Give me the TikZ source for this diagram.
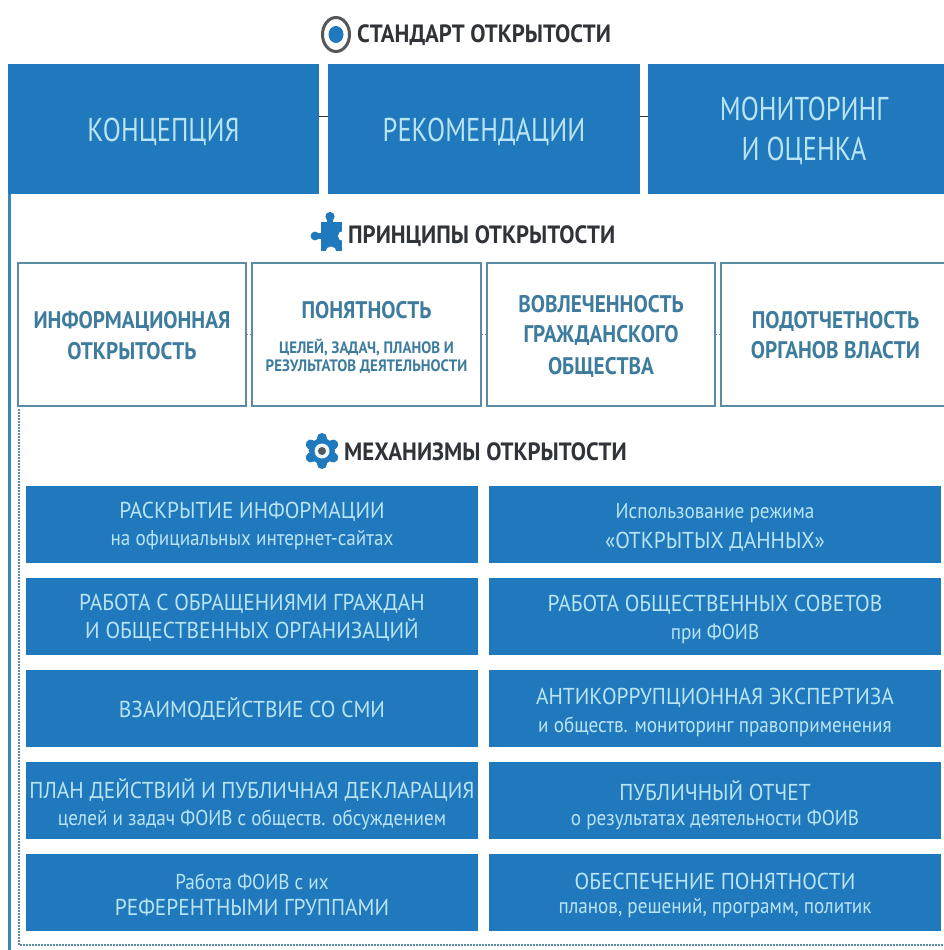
\documentclass[tikz,border=0pt]{standalone}
\usetikzlibrary{shapes.geometric}
\usepackage{fontspec}
\setmainfont{PT Sans}
\newfontfamily\condhuge[FakeStretch=0.8]{PT Sans}
\newfontfamily\condcap[FakeStretch=0.93]{PT Sans}
\newfontfamily\condsmall[FakeStretch=0.89]{PT Sans}
\newfontfamily\condtitle[FakeStretch=0.885]{PT Sans Bold}
\newfontfamily\condnote[FakeStretch=0.906]{PT Sans Bold}
\newfontfamily\condhead[FakeStretch=0.91]{PT Sans Bold}
\definecolor{mainblue}{HTML}{2079BD}
\definecolor{paleblue}{HTML}{B9E4F4}
\definecolor{linegrey}{HTML}{5B8CA6}
\definecolor{tealtext}{HTML}{3E7C9E}
\definecolor{headtext}{HTML}{303438}
\definecolor{ringgrey}{HTML}{55585A}
\definecolor{edgeblue}{HTML}{3A86BC}
\newcommand\capline[1]{{\condcap\fontsize{23}{27}\selectfont #1}}
\newcommand\smalltext[1]{{\condsmall\fontsize{21.5}{24}\selectfont #1}}
\newcommand\hugecap[1]{{\condhuge\fontsize{33}{41}\selectfont #1}}
\newcommand\ptitle[1]{{\condtitle\fontsize{24}{30}\selectfont #1}}
\newcommand\psmall[1]{{\condnote\fontsize{16.5}{21}\selectfont #1}}
\newcommand\pushdown[1]{\rule{0pt}{#1pt}}
\tikzset{
  topbox/.style={fill=mainblue,text=paleblue,inner sep=0pt,align=center,minimum height=130pt},
  mechbox/.style={fill=mainblue,text=paleblue,inner sep=0pt,align=center,minimum width=452pt,minimum height=77pt},
  princbox/.style={draw=linegrey,line width=1.6pt,fill=white,text=tealtext,inner sep=0pt,align=center,minimum height=143pt},
  headline/.style={text=headtext,inner sep=0pt,anchor=west,font={\condhead\fontsize{25}{28}\selectfont}},
  thinlink/.style={draw=headtext,line width=0.9pt},
  dotlink/.style={draw=linegrey,line width=1pt,dotted},
  frameline/.style={draw=edgeblue,line width=2.4pt},
  dotframe/.style={draw=linegrey,line width=2.4pt,dash pattern=on 1.5pt off 1.5pt},
}
\begin{document}
\begin{tikzpicture}[x=1pt,y=-1pt]
\useasboundingbox (0,0) rectangle (944,950);
\fill[white] (0,0) rectangle (944,950);
% frame
\coordinate (fa) at (9.5,194);
\coordinate (fb) at (9.5,950);
\coordinate (da) at (19,409);
\coordinate (db) at (19,945);
\coordinate (dc) at (944,945);
\draw[frameline] (fa) -- (fb);
\draw[dotframe] (da) -- (db) -- (dc);
% first heading
\node[ellipse,draw=ringgrey,line width=3pt,fill=white,minimum width=27pt,minimum height=34pt,inner sep=0pt] (ring) at (336,34.5) {};
\node[ellipse,fill=mainblue,minimum width=15pt,minimum height=17pt,inner sep=0pt] (ringcore) at (ring.center) {};
\node[headline] (h1) at (357,35) {СТАНДАРТ ОТКРЫТОСТИ};
% top boxes
\node[topbox,minimum width=311pt] (c1) at (163.5,129) {\pushdown{29}\hugecap{КОНЦЕПЦИЯ}};
\node[topbox,minimum width=312pt] (c2) at (484,129) {\pushdown{29}\hugecap{РЕКОМЕНДАЦИИ}};
\node[topbox,minimum width=312pt] (c3) at (804,129) {\pushdown{28}\hugecap{МОНИТОРИНГ}\\[15pt]\hugecap{И ОЦЕНКА}};
\draw[thinlink] ([yshift=13pt]c1.east) -- ([yshift=13pt]c2.west);
\draw[thinlink] ([yshift=13pt]c2.east) -- ([yshift=13pt]c3.west);
% second heading: puzzle icon
\fill[mainblue] (321,222) rectangle (342,251);
\fill[mainblue] (330,216.5) circle (4.6pt);
\fill[mainblue] (327,218) rectangle (333,224);
\fill[mainblue] (315,236) circle (4.4pt);
\fill[mainblue] (316,233) rectangle (323,239);
\fill[white] (343,236) circle (5pt);
\fill[white] (331,252) circle (5.5pt);
\node[headline] (h2) at (348,236) {ПРИНЦИПЫ ОТКРЫТОСТИ};
% principles
\node[princbox,minimum width=228pt] (p1) at (132,334.5) {\pushdown{19}\ptitle{ИНФОРМАЦИОННАЯ}\\[10pt]\ptitle{ОТКРЫТОСТЬ}};
\node[princbox,minimum width=229pt] (p2) at (366.5,334.5) {\pushdown{23}\ptitle{ПОНЯТНОСТЬ}\\[19pt]\psmall{ЦЕЛЕЙ, ЗАДАЧ, ПЛАНОВ И}\\[3pt]\psmall{РЕЗУЛЬТАТОВ ДЕЯТЕЛЬНОСТИ}};
\node[princbox,minimum width=228pt] (p3) at (601,334.5) {\pushdown{21}\ptitle{ВОВЛЕЧЕННОСТЬ}\\[11pt]\ptitle{ГРАЖДАНСКОГО}\\[11pt]\ptitle{ОБЩЕСТВА}};
\node[princbox,minimum width=229pt] (p4) at (835.5,334.5) {\pushdown{19}\ptitle{ПОДОТЧЕТНОСТЬ}\\[9pt]\ptitle{ОРГАНОВ ВЛАСТИ}};
\draw[dotlink] (p1.east) -- (p2.west);
\draw[dotlink] (p2.east) -- (p3.west);
\draw[dotlink] (p3.east) -- (p4.west);
% third heading: gear icon
\foreach \a in {0,60,120,180,240,300}{
  \fill[mainblue,rotate around={\a:(322,451)}] (322,438) circle (5pt);
}
\fill[mainblue] (322,451) circle (13pt);
\fill[white!75!paleblue] (322,451) circle (7.5pt);
\fill[ringgrey] (322,451) circle (4pt);
\node[headline] (h3) at (344,452) {МЕХАНИЗМЫ ОТКРЫТОСТИ};
% mechanisms left
\node[mechbox] (m1) at (252,524.5) {\pushdown{20}\capline{РАСКРЫТИЕ ИНФОРМАЦИИ}\\[8pt]\smalltext{на официальных интернет-сайтах}};
\node[mechbox] (m2) at (252,616.5) {\pushdown{19}\capline{РАБОТА С ОБРАЩЕНИЯМИ ГРАЖДАН}\\[4pt]\capline{И ОБЩЕСТВЕННЫХ ОРГАНИЗАЦИЙ}};
\node[mechbox] (m3) at (252,708.5) {\capline{ВЗАИМОДЕЙСТВИЕ СО СМИ}};
\node[mechbox] (m4) at (252,800.5) {\pushdown{27}\capline{ПЛАН ДЕЙСТВИЙ И ПУБЛИЧНАЯ ДЕКЛАРАЦИЯ}\\[8pt]\smalltext{целей и задач ФОИВ с обществ. обсуждением}};
\node[mechbox] (m5) at (252,892.5) {\pushdown{21}\smalltext{Работа ФОИВ с их}\\[8pt]\capline{РЕФЕРЕНТНЫМИ ГРУППАМИ}};
% mechanisms right
\node[mechbox] (n1) at (715,524.5) {\pushdown{21}\smalltext{Использование режима}\\[9pt]\capline{«ОТКРЫТЫХ ДАННЫХ»}};
\node[mechbox] (n2) at (715,616.5) {\pushdown{22}\capline{РАБОТА ОБЩЕСТВЕННЫХ СОВЕТОВ}\\[8pt]\smalltext{при ФОИВ}};
\node[mechbox] (n3) at (715,708.5) {\pushdown{24}\capline{АНТИКОРРУПЦИОННАЯ ЭКСПЕРТИЗА}\\[8pt]\smalltext{и обществ. мониторинг правоприменения}};
\node[mechbox] (n4) at (715,800.5) {\pushdown{30}\capline{ПУБЛИЧНЫЙ ОТЧЕТ}\\[8pt]\smalltext{о результатах деятельности ФОИВ}};
\node[mechbox] (n5) at (715,892.5) {\pushdown{22}\capline{ОБЕСПЕЧЕНИЕ ПОНЯТНОСТИ}\\[8pt]\smalltext{планов, решений, программ, политик}};
\end{tikzpicture}
\end{document}
